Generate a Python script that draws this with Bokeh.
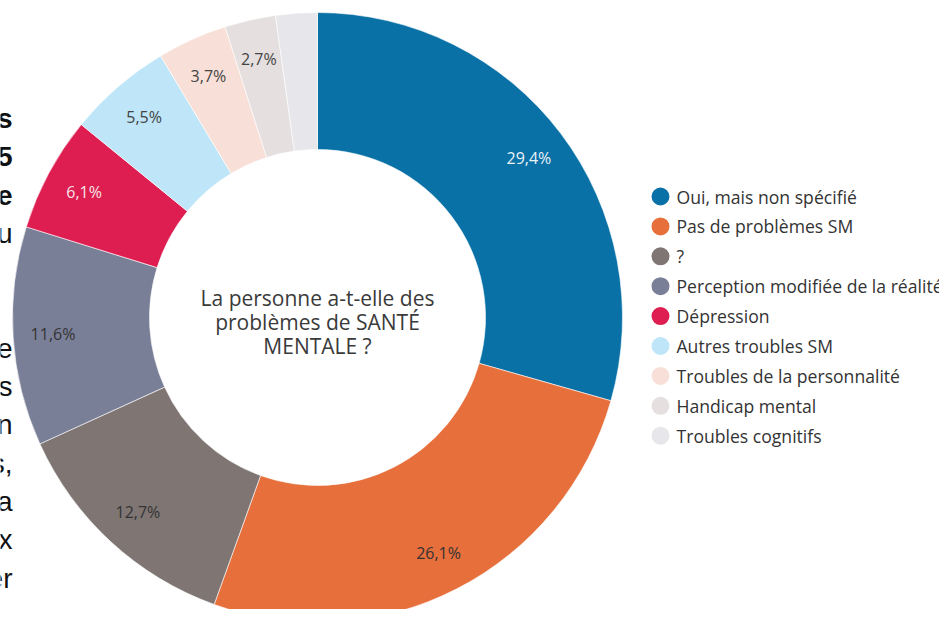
import numpy as np
from bokeh.plotting import figure
from bokeh.models import Range1d, ColumnDataSource
from bokeh.core.properties import value
from bokeh.embed import file_html
from bokeh.resources import INLINE

# ---- data ----
categories = ["Oui, mais non spécifié", "Pas de problèmes SM", "?",
              "Perception modifiée de la réalité", "Dépression",
              "Autres troubles SM", "Troubles de la personnalité",
              "Handicap mental", "Troubles cognitifs"]
shares = [29.4, 26.1, 12.7, 11.6, 6.1, 5.5, 3.7, 2.7, 2.2]
slice_labels = ["29,4%", "26,1%", "12,7%", "11,6%", "6,1%", "5,5%", "3,7%", "2,7%", ""]
colors = ["#0971A6", "#E66F3C", "#7F7674", "#7A7F98", "#DE1E51",
          "#BEE5F8", "#F8E0D8", "#E5E0DF", "#E6E6EB"]
label_colors = ["#EAF2F8", "#333333", "#333333", "#333333", "#F6E3E8",
                "#444444", "#444444", "#444444", "#444444"]
center_title = ["La personne a-t-elle des", "problèmes de SANTÉ", "MENTALE ?"]
# cut-off fragments of the surrounding document text at the left edge
side_fragments = ["s", "5", "e", "u", "", "", "e", "s", "n", "s,", "a", "x", "er", "."]
side_bold = [True, True, True, False, False, False, False, False, False,
             False, False, False, False, False]

# ---- layout (picture pixel coordinates; y = -picture_y) ----
W, H = 939, 609
p = figure(width=W, height=H, output_backend="svg", toolbar_location=None,
           x_range=Range1d(0, W), y_range=Range1d(-H, 0),
           x_axis_type=None, y_axis_type=None, min_border=0,
           outline_line_color=None, background_fill_color="white")
p.grid.visible = False

cx, cy = 317, -317
r_out, r_in, r_lab = 305, 168, 265

vals = np.array(shares) / sum(shares)
cum = np.concatenate([[0], np.cumsum(vals)])
start = np.pi / 2 - 2 * np.pi * cum[:-1]
end = np.pi / 2 - 2 * np.pi * cum[1:]
mid = (start + end) / 2

src = ColumnDataSource(dict(start=start, end=end, color=colors,
                            lx=cx + r_lab * np.cos(mid), ly=cy + r_lab * np.sin(mid),
                            lab=slice_labels, lcol=label_colors))
p.annular_wedge(x=cx, y=cy, inner_radius=r_in, outer_radius=r_out,
                start_angle="start", end_angle="end", direction="clock",
                fill_color="color", line_color="white", line_width=0.6,
                source=src)
p.text(x="lx", y="ly", text="lab", text_color="lcol", source=src,
       text_font=value("Open Sans"), text_font_size="16px",
       text_align="center", text_baseline="middle")

# center title
ty = [cy + 20 - 24 * i for i in range(len(center_title))]
p.text(x=[cx] * len(center_title), y=ty, text=center_title,
       text_font=value("Open Sans"), text_font_size="21px", text_color="#3a3a3a",
       text_align="center", text_baseline="middle")

# legend
lx0, ly0, ldy = 660, -196, 29.9
ly = [ly0 - ldy * i for i in range(len(categories))]
p.scatter(x=[lx0] * len(categories), y=ly, size=18, marker="circle",
          fill_color=colors, line_color=None)
p.text(x=[lx0 + 16] * len(categories), y=ly, text=categories,
       text_font=value("Open Sans"), text_font_size="17.6px", text_color="#333333",
       text_align="left", text_baseline="middle")

# left fragments
fy = [-118 - 38.3 * i for i in range(len(side_fragments))]
bx = [f for f, b in zip(side_fragments, side_bold) if b]
by = [y for y, b in zip(fy, side_bold) if b]
nx = [f for f, b in zip(side_fragments, side_bold) if not b]
ny = [y for y, b in zip(fy, side_bold) if not b]
p.text(x=[12] * len(bx), y=by, text=bx, text_font=value("Liberation Sans"),
       text_font_size="28px", text_font_style="bold", text_color="#111111",
       text_align="right", text_baseline="alphabetic")
p.text(x=[12] * len(nx), y=ny, text=nx, text_font=value("Liberation Sans"),
       text_font_size="28px", text_color="#111111",
       text_align="right", text_baseline="alphabetic")

open("out.html", "w").write(file_html(p, INLINE))
